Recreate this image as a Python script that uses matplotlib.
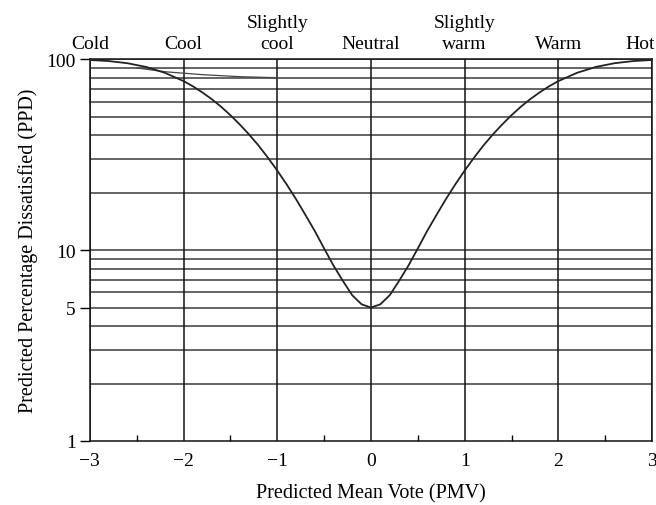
import numpy as np
import matplotlib
matplotlib.use("Agg")
from matplotlib import pyplot as plt
from matplotlib.ticker import FixedLocator, NullFormatter

plt.rcParams['font.family'] = ['Liberation Serif', 'DejaVu Serif']

# PPD
pmv = [-3, -2.8, -2.6, -2.4, -2.2, -2, -1.9, -1.8, -1.7, -1.6, -1.5, -1.4, -1.3,
       -1.2, -1.1, -1, -0.9, -0.8, -0.7, -0.6, -0.5, -0.4, -0.3, -0.2, -0.1, 0,
       0.1, 0.2, 0.3, 0.4, 0.5, 0.6, 0.7, 0.8, 0.9, 1, 1.1, 1.2, 1.3, 1.4, 1.5,
       1.6, 1.7, 1.8, 1.9, 2, 2.2, 2.4, 2.6, 2.8, 3]
ppd = [99.1, 97.8, 95.3, 91.1, 84.9, 76.8, 72.1, 67.0, 61.8, 56.4, 50.9, 45.5, 40.3,
       35.3, 30.5, 26.1, 22.1, 18.5, 15.3, 12.6, 10.2, 8.3, 6.9, 5.8, 5.2, 5.0,
       5.2, 5.8, 6.9, 8.3, 10.2, 12.6, 15.3, 18.5, 22.1, 26.1, 30.5, 35.3, 40.3, 45.5, 50.9,
       56.4, 61.8, 67.0, 72.1, 76.8, 84.9, 91.1, 95.3, 97.8, 99.1]

# stray short line near the top left of the original
branch_x = [-2.5, -2.2, -1.8, -1.4, -1.0]
branch_y = [90.0, 86.0, 83.0, 81.0, 80.0]

sensation = ['Cold', 'Cool', 'Slightly\ncool', 'Neutral', 'Slightly\nwarm', 'Warm', 'Hot']
sens_x = [-3, -2, -1, 0, 1, 2, 3]

fig = plt.figure(figsize=(6.56, 5.06), dpi=100)
ax = fig.add_axes([0.137, 0.1265, 0.857, 0.7545])

ax.set_yscale('log')
ax.set_xlim(-3, 3)
ax.set_ylim(1, 100)

# grid: horizontal at every log step, vertical at integers
for v in list(range(2, 10)) + list(range(10, 101, 10)):
    ax.axhline(v, color='#3a3a3a', lw=1.1, zorder=1)
for v in sens_x:
    ax.axvline(v, color='#111111', lw=1.1, zorder=1)

ax.plot(pmv, ppd, color='#222222', lw=1.3, zorder=3)
ax.plot(branch_x, branch_y, color='#444444', lw=0.9, zorder=2)

ax.yaxis.set_major_locator(FixedLocator([1, 5, 10, 100]))
ax.yaxis.set_minor_locator(FixedLocator([]))
ax.set_yticklabels(['1', '5', '10', '100'])
ax.yaxis.set_minor_formatter(NullFormatter())
ax.tick_params(axis='y', which='major', direction='out', length=7, width=1, labelsize=14, pad=3)

ax.set_xticks(sens_x)
ax.set_xticklabels(['\u22123', '\u22122', '\u22121', '0', '1', '2', '3'])
ax.xaxis.set_minor_locator(FixedLocator([-2.5, -1.5, -0.5, 0.5, 1.5, 2.5]))
ax.tick_params(axis='x', which='major', length=0, labelsize=14, pad=8)
ax.tick_params(axis='x', which='minor', direction='in', length=4, width=1)

for s in ax.spines.values():
    s.set_color('#111111')
    s.set_linewidth(1.1)

ax.set_xlabel('Predicted Mean Vote (PMV)', fontsize=14.5, labelpad=10)
ax.set_ylabel('Predicted Percentage Dissatisfied (PPD)', fontsize=14.5, labelpad=6)

xt = ax.get_xaxis_transform()
for x, lab in zip(sens_x[:-1], sensation[:-1]):
    ax.text(x, 1.02, lab, transform=xt, ha='center', va='bottom',
            fontsize=14, linespacing=1.3, clip_on=False)
# last label sits against the right edge of the figure
ax.annotate(sensation[-1], xy=(sens_x[-1], 1.02), xycoords=xt, xytext=(2, 0),
            textcoords='offset points', ha='right', va='bottom', fontsize=14)

fig.savefig('out.png', dpi=100)
